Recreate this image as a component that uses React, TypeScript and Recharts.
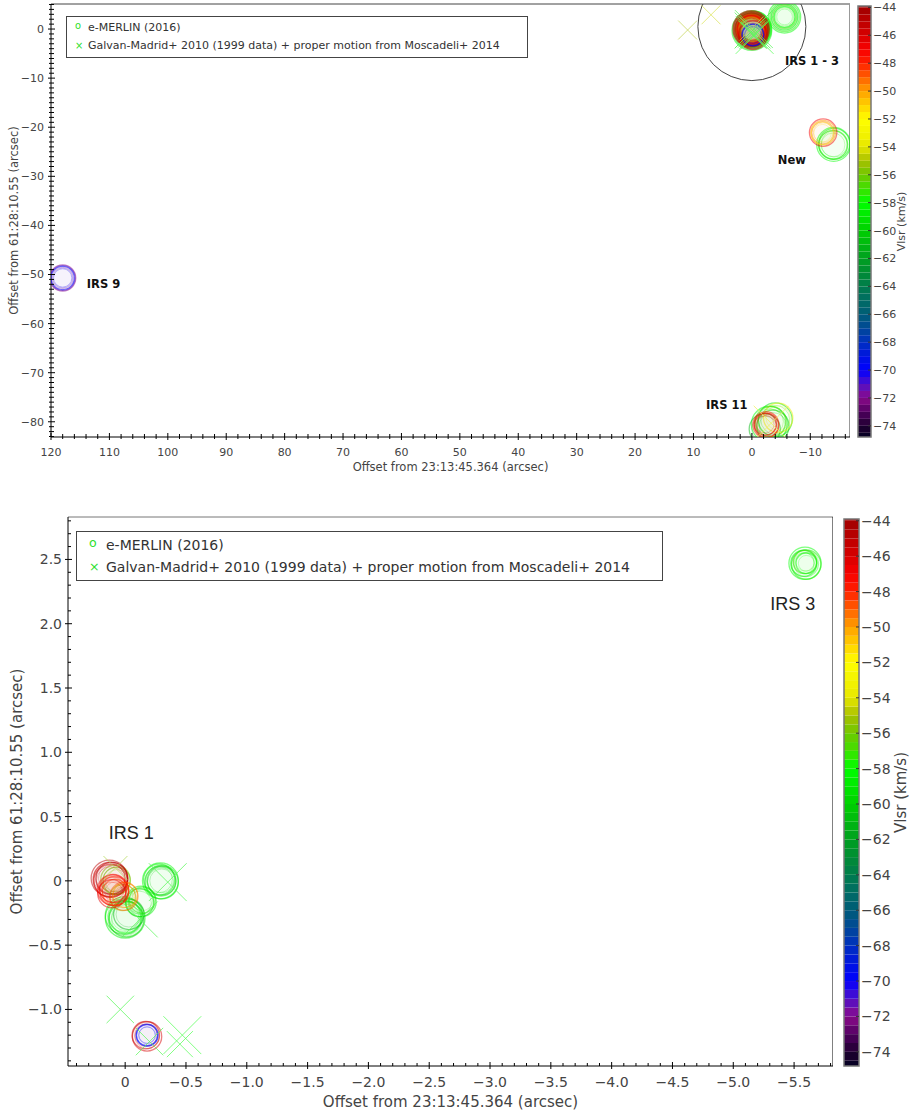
import {
  Legend,
  ReferenceArea,
  ReferenceDot,
  ReferenceLine,
  Scatter,
  ScatterChart,
  XAxis,
  YAxis,
  ZAxis,
} from "recharts";

// e-MERLIN maser spots: offsets in arcsec, Vlsr in km/s, s = peak flux (marker size)
const IRS1_SPOTS = [
  { x: 0.0, y: -0.29, v: -58.5, s: 80 },
  { x: 0.01, y: -0.27, v: -59.0, s: 70 },
  { x: -0.01, y: -0.3, v: -60.0, s: 60 },
  { x: 0.0, y: -0.28, v: -58.0, s: 50 },
  { x: -0.03, y: -0.26, v: -61.0, s: 44 },
  { x: -0.13, y: -0.16, v: -58.5, s: 44 },
  { x: -0.12, y: -0.17, v: -59.5, s: 36 },
  { x: -0.14, y: -0.15, v: -57.5, s: 30 },
  { x: -0.29, y: 0.0, v: -58.0, s: 64 },
  { x: -0.3, y: -0.01, v: -59.0, s: 54 },
  { x: -0.28, y: 0.01, v: -58.5, s: 46 },
  { x: -0.3, y: 0.0, v: -60.0, s: 38 },
  { x: 0.08, y: 0.01, v: -55.5, s: 40 },
  { x: 0.07, y: 0.0, v: -56.0, s: 34 },
  { x: 0.02, y: -0.13, v: -55.0, s: 30 },
  { x: 0.13, y: 0.02, v: -45.0, s: 66 },
  { x: 0.12, y: 0.01, v: -45.5, s: 60 },
  { x: 0.12, y: 0.0, v: -46.0, s: 54 },
  { x: 0.11, y: 0.02, v: -44.5, s: 48 },
  { x: 0.01, y: -0.12, v: -49.0, s: 36 },
  { x: 0.0, y: -0.11, v: -50.0, s: 26 },
  { x: 0.1, y: -0.07, v: -47.5, s: 46 },
  { x: 0.09, y: -0.08, v: -48.0, s: 40 },
  { x: 0.1, y: -0.06, v: -47.0, s: 34 },
  { x: 0.08, y: -0.09, v: -48.5, s: 30 },
  { x: 0.11, y: -0.1, v: -46.5, s: 36 },
  { x: -0.18, y: -1.21, v: -46.0, s: 40 },
  { x: -0.17, y: -1.2, v: -45.5, s: 34 },
  { x: -0.18, y: -1.2, v: -69.5, s: 19 },
  { x: -0.18, y: -1.2, v: -70.0, s: 17 },
];

const IRS3_SPOTS = [
  { x: -5.59, y: 2.47, v: -58.0, s: 50 },
  { x: -5.6, y: 2.46, v: -57.5, s: 40 },
  { x: -5.58, y: 2.47, v: -58.5, s: 30 },
  { x: -5.59, y: 2.48, v: -57.0, s: 22 },
  { x: -5.6, y: 2.47, v: -58.0, s: 16 },
];

const NEW_SPOTS = [
  { x: -14.0, y: -23.5, v: -58.0, s: 56 },
  { x: -14.1, y: -23.4, v: -58.5, s: 46 },
  { x: -13.9, y: -23.6, v: -57.5, s: 38 },
  { x: -12.2, y: -21.1, v: -47.0, s: 34 },
  { x: -12.2, y: -21.1, v: -50.0, s: 26 },
  { x: -12.1, y: -21.2, v: -51.0, s: 20 },
];

const IRS9_SPOTS = [
  { x: 118.0, y: -50.7, v: -72.0, s: 30 },
  { x: 118.0, y: -50.7, v: -71.0, s: 26 },
  { x: 118.0, y: -50.7, v: -70.0, s: 22 },
];

const IRS11_SPOTS = [
  { x: -3.0, y: -80.5, v: -58.0, s: 64 },
  { x: -4.0, y: -79.6, v: -59.0, s: 56 },
  { x: -3.6, y: -80.9, v: -60.0, s: 50 },
  { x: -2.2, y: -81.5, v: -61.0, s: 46 },
  { x: -4.5, y: -79.2, v: -53.5, s: 40 },
  { x: -3.2, y: -80.0, v: -57.0, s: 44 },
  { x: -2.4, y: -80.6, v: -47.5, s: 30 },
  { x: -2.5, y: -80.7, v: -48.0, s: 24 },
  { x: -2.3, y: -80.5, v: -46.5, s: 20 },
];

// Galvan-Madrid+ 2010 positions moved with Moscadeli+ 2014 proper motions
const GALVAN_SPOTS = [
  { x: 11.0, y: -0.2, v: -55.0, s: 12 },
  { x: 7.0, y: 2.9, v: -54.5, s: 12 },
  { x: 0.08, y: 0.1, v: -55.5, s: 24 },
  { x: -0.35, y: -0.01, v: -58.5, s: 72 },
  { x: -0.12, y: -0.3, v: -58.5, s: 64 },
  { x: 0.04, y: -1.0, v: -58.5, s: 34 },
  { x: -0.2, y: -1.25, v: -58.5, s: 34 },
  { x: -0.47, y: -1.2, v: -58.0, s: 72 },
  { x: -0.45, y: -1.27, v: -58.0, s: 30 },
  { x: -3.3, y: -80.3, v: -54.0, s: 60 },
];

const EMERLIN_SPOTS = [...IRS1_SPOTS, ...IRS3_SPOTS, ...NEW_SPOTS, ...IRS9_SPOTS, ...IRS11_SPOTS];

const SERIES_NAMES = [
  "e-MERLIN (2016)",
  "Galvan-Madrid+ 2010 (1999 data) + proper motion from Moscadeli+ 2014",
];

const TOP_LABELS = [
  { x: -10.3, y: -6.5, text: "IRS 1 - 3" },
  { x: -6.85, y: -26.6, text: "New" },
  { x: 111.0, y: -51.9, text: "IRS 9" },
  { x: 4.3, y: -76.5, text: "IRS 11" },
];
const BOTTOM_LABELS = [
  { x: -0.05, y: 0.37, text: "IRS 1" },
  { x: -5.49, y: 2.15, text: "IRS 3" },
];

const TOP_X_MAJOR = [120, 110, 100, 90, 80, 70, 60, 50, 40, 30, 20, 10, 0, -10];
const TOP_Y_MAJOR = [0, -10, -20, -30, -40, -50, -60, -70, -80];
const BOT_X_MAJOR = [0, -0.5, -1, -1.5, -2, -2.5, -3, -3.5, -4, -4.5, -5, -5.5];
const BOT_Y_MAJOR = [2.5, 2, 1.5, 1, 0.5, 0, -0.5, -1];
const CBAR_TICKS = [-44, -46, -48, -50, -52, -54, -56, -58, -60, -62, -64, -66, -68, -70, -72, -74];

const TOP_X_DOMAIN = [-16.8, 120];
const TOP_Y_DOMAIN = [-83.1, 5.1];
const BOT_X_DOMAIN = [-5.82, 0.47];
const BOT_Y_DOMAIN = [-1.44, 2.83];
const CBAR_DOMAIN = [-74.8, -43.9];

const VLSR_STOPS: [number, string][] = [
  [-75, "#000020"], [-74, "#200030"], [-73, "#500060"], [-72, "#8a0a8a"],
  [-71, "#5010c8"], [-70, "#0000ff"], [-69, "#0014e0"], [-68, "#0030c0"],
  [-67, "#004898"], [-66, "#005c78"], [-65, "#006c64"], [-64, "#007c4c"],
  [-63, "#008c34"], [-62, "#00a020"], [-60, "#00d000"], [-58, "#00ff00"],
  [-57, "#40e000"], [-56, "#70c800"], [-55, "#a8c000"], [-54, "#e8e800"],
  [-52, "#ffff00"], [-51, "#ffd000"], [-50, "#ffa000"], [-49, "#ff6000"],
  [-48, "#ff2000"], [-47, "#f80000"], [-46, "#d80000"], [-44, "#a00000"],
  [-43, "#a00000"],
];

const hex = (c: string) => [1, 3, 5].map((i) => parseInt(c.slice(i, i + 2), 16));
const toHex = (rgb: number[]) =>
  "#" + rgb.map((n) => Math.round(Math.max(0, Math.min(255, n))).toString(16).padStart(2, "0")).join("");

function vColor(v: number, whiten = 0) {
  let rgb = hex(VLSR_STOPS[0][1]);
  for (let i = 0; i < VLSR_STOPS.length - 1; i++) {
    const [a, ca] = VLSR_STOPS[i];
    const [b, cb] = VLSR_STOPS[i + 1];
    if (v >= a && v <= b) {
      const t = (v - a) / (b - a);
      const A = hex(ca);
      const B = hex(cb);
      rgb = A.map((n, k) => n + (B[k] - n) * t);
      break;
    }
    if (v > b) rgb = hex(cb);
  }
  return toHex(rgb.map((n) => n + (255 - n) * whiten));
}

// colour-bar steps, 0.5 km/s wide
const CBAR_BINS: number[] = [];
for (let i = 0; i < 64; i++) CBAR_BINS.push(-75 + i * 0.5);

function steps(a: number, b: number, step: number) {
  const out: number[] = [];
  const n = Math.round((b - a) / step);
  for (let i = 0; i <= n; i++) out.push(+(a + i * step).toFixed(4));
  return out;
}

const fmt = (v: number, dec: number) =>
  Math.abs(v) < 1e-9 ? "0" : (v < 0 ? "\u2212" : "") + Math.abs(v).toFixed(dec);

const isMajor = (majors: number[], v: number) => majors.some((m) => Math.abs(m - v) < 1e-6);

const FONT = "DejaVu Sans, sans-serif";

function xTick(majors: number[], dec: number, fs: number, gap: number, both: boolean) {
  return (p: any) => {
    const major = isMajor(majors, p.payload.value);
    return (
      <g>
        <line x1={p.x} x2={p.x} y1={p.y - (major ? 4 : 3)} y2={p.y + (major ? 3 : both ? 2 : 0)} stroke="#000" />
        {major && (
          <text x={p.x} y={p.y + gap} textAnchor="middle" fontSize={fs} fontFamily={FONT} fill="#444">
            {fmt(p.payload.value, dec)}
          </text>
        )}
      </g>
    );
  };
}

function yTick(majors: number[], dec: number, fs: number, gap: number, both: boolean) {
  return (p: any) => {
    const major = isMajor(majors, p.payload.value);
    return (
      <g>
        <line x1={p.x - (major ? 3 : both ? 2 : 0)} x2={p.x + (major ? 4 : 3)} y1={p.y} y2={p.y} stroke="#000" />
        {major && (
          <text x={p.x - gap} y={p.y + fs * 0.36} textAnchor="end" fontSize={fs} fontFamily={FONT} fill="#444">
            {fmt(p.payload.value, dec)}
          </text>
        )}
      </g>
    );
  };
}

function cbarTick(fs: number) {
  return (p: any) => (
    <g>
      <line x1={p.x - 3} x2={p.x} y1={p.y} y2={p.y} stroke="#333" />
      <text x={p.x + 2} y={p.y + fs * 0.36} fontSize={fs} fontFamily={FONT} fill="#444">
        {fmt(p.payload.value, 0)}
      </text>
    </g>
  );
}

const Ring = (p: any) => {
  const r = p.size ? Math.sqrt(p.size / Math.PI) : p.width / 2;
  const c = vColor(p.payload.v);
  return (
    <g>
      <circle cx={p.cx} cy={p.cy} r={r} fill={c} fillOpacity={0.015} stroke={c} strokeOpacity={0.5} strokeWidth={1.3} />
      <circle cx={p.cx} cy={p.cy} r={Math.max(r - 2.5, 1)} fill="none" stroke={c} strokeOpacity={0.3} strokeWidth={0.8} />
    </g>
  );
};

const Cross = (p: any) => {
  const h = p.size ? Math.sqrt(p.size / Math.PI) : p.width / 2;
  const c = vColor(p.payload.v, 0.35);
  return (
    <g stroke={c} strokeOpacity={0.75} strokeWidth={1}>
      <line x1={p.cx - h} y1={p.cy - h} x2={p.cx + h} y2={p.cy + h} />
      <line x1={p.cx - h} y1={p.cy + h} x2={p.cx + h} y2={p.cy - h} />
    </g>
  );
};

function LegendBox({ width, fs, rowH, padL, textL }: { width: number; fs: number; rowH: number; padL: number; textL: number }) {
  const row = (sym: string, text: string) => (
    <div style={{ position: "relative", height: rowH, lineHeight: `${rowH}px` }}>
      <span style={{ position: "absolute", left: padL, top: sym === "o" ? -2 : 0, color: "#2ee02e", fontSize: fs * 0.9 }}>{sym}</span>
      <span style={{ position: "absolute", left: textL, whiteSpace: "nowrap" }}>{text}</span>
    </div>
  );
  return (
    <div
      style={{
        width,
        border: "1px solid #444",
        background: "#fff",
        fontFamily: FONT,
        fontSize: fs,
        color: "#333",
        padding: "2px 0",
        boxSizing: "border-box",
      }}
    >
      {row("o", SERIES_NAMES[0])}
      {row("\u00d7", SERIES_NAMES[1])}
    </div>
  );
}

function ColorBar({ width, height, top, bottom, left, plotW, fs, titleFs }: any) {
  return (
    <ScatterChart width={width} height={height} margin={{ top, right: 0, bottom, left }}>
      <XAxis type="number" dataKey="x" domain={[0, 1]} allowDataOverflow hide />
      <YAxis
        type="number"
        dataKey="y"
        orientation="right"
        width={width - left - plotW}
        domain={CBAR_DOMAIN}
        allowDataOverflow
        ticks={CBAR_TICKS}
        interval={0}
        tickSize={0}
        tickMargin={0}
        axisLine={false}
        tick={cbarTick(fs)}
        label={{
          value: "Vlsr (km/s)",
          angle: -90,
          position: "insideRight",
          offset: 9,
          style: { textAnchor: "middle", fontSize: titleFs, fontFamily: FONT, fill: "#444" },
        }}
      />
      {CBAR_BINS.map((b) => (
        <ReferenceArea
          key={b}
          x1={0}
          x2={1}
          y1={b}
          y2={b + 0.5}
          fill={vColor(b + 0.25)}
          fillOpacity={1}
          stroke="none"
          ifOverflow="hidden"
        />
      ))}
      <ReferenceArea x1={0} x2={1} y1={CBAR_DOMAIN[0]} y2={CBAR_DOMAIN[1]} fill="none" stroke="#777" strokeWidth={1.5} />
      <Scatter data={CBAR_BINS.map((b) => ({ x: 0.5, y: b }))} shape={() => <g />} isAnimationActive={false} legendType="none" />
    </ScatterChart>
  );
}

export default function App() {
  return (
    <div style={{ position: "absolute", left: 0, top: 0, width: 910, height: 1115, background: "#fff", overflow: "hidden" }}>
      {/* top panel: whole field */}
      <div style={{ position: "absolute", left: 0, top: 0 }}>
        <ScatterChart width={850} height={480} margin={{ top: 4, right: 0, bottom: 0, left: 0 }}>
          <XAxis
            type="number"
            dataKey="x"
            reversed
            domain={TOP_X_DOMAIN}
            allowDataOverflow
            height={43}
            ticks={steps(-16, 120, 2)}
            interval={0}
            tickSize={0}
            tickMargin={0}
            stroke="#000"
            tick={xTick(TOP_X_MAJOR, 0, 11, 19, true)}
            label={{
              value: "Offset from 23:13:45.364 (arcsec)",
              position: "insideBottom",
              offset: 9,
              style: { fontSize: 11.5, fontFamily: FONT, fill: "#444" },
            }}
          />
          <YAxis
            type="number"
            dataKey="y"
            domain={TOP_Y_DOMAIN}
            allowDataOverflow
            width={51}
            ticks={steps(-83, 5, 1)}
            interval={0}
            tickSize={0}
            tickMargin={0}
            stroke="#000"
            tick={yTick(TOP_Y_MAJOR, 0, 11, 7, true)}
            label={{
              value: "Offset from 61:28:10.55 (arcsec)",
              angle: -90,
              position: "insideLeft",
              offset: 14,
              style: { textAnchor: "middle", fontSize: 11.5, fontFamily: FONT, fill: "#444" },
            }}
          />
          <ZAxis type="number" dataKey="s" domain={[0, 100]} range={[113, 1520]} />
          <ReferenceLine y={TOP_Y_DOMAIN[1]} stroke="#444" />
          <ReferenceLine x={TOP_X_DOMAIN[0]} stroke="#999" strokeWidth={2} />
          <ReferenceDot x={0} y={0.5} r={54} fill="none" stroke="#444" strokeWidth={1} ifOverflow="hidden" />
          <Scatter name={SERIES_NAMES[0]} data={EMERLIN_SPOTS} shape={Ring} isAnimationActive={false} />
          <Scatter name={SERIES_NAMES[1]} data={GALVAN_SPOTS} shape={Cross} isAnimationActive={false} />
          {TOP_LABELS.map((l) => (
            <ReferenceDot
              key={l.text}
              x={l.x}
              y={l.y}
              r={0}
              shape={(p: any) => (
                <text x={p.cx} y={p.cy + 4} textAnchor="middle" fontSize={11.5} fontWeight="bold" fontFamily={FONT} fill="#111">
                  {l.text}
                </text>
              )}
            />
          ))}
          <Legend
            layout="horizontal"
            verticalAlign="middle"
            align="center"
            wrapperStyle={{ left: 66, top: 16, width: 462 }}
            content={() => <LegendBox width={462} fs={11} rowH={18} padL={8} textL={21} />}
          />
        </ScatterChart>
      </div>
      <div style={{ position: "absolute", left: 850, top: 0 }}>
        <ColorBar width={60} height={480} top={6} bottom={43} left={8} plotW={13} fs={11} titleFs={11} />
      </div>

      {/* bottom panel: IRS 1 - 3 zoom */}
      <div style={{ position: "absolute", left: 0, top: 500 }}>
        <ScatterChart width={833} height={615} margin={{ top: 17, right: 0, bottom: 0, left: 0 }}>
          <XAxis
            type="number"
            dataKey="x"
            reversed
            domain={BOT_X_DOMAIN}
            allowDataOverflow
            height={49}
            ticks={steps(-5.8, 0.4, 0.1)}
            interval={0}
            tickSize={0}
            tickMargin={0}
            stroke="#000"
            tick={xTick(BOT_X_MAJOR, 1, 14, 21, false)}
            label={{
              value: "Offset from 23:13:45.364 (arcsec)",
              position: "insideBottom",
              offset: 8,
              style: { fontSize: 15, fontFamily: FONT, fill: "#444" },
            }}
          />
          <YAxis
            type="number"
            dataKey="y"
            domain={BOT_Y_DOMAIN}
            allowDataOverflow
            width={68}
            ticks={steps(-1.4, 2.8, 0.1)}
            interval={0}
            tickSize={0}
            tickMargin={0}
            stroke="#000"
            tick={yTick(BOT_Y_MAJOR, 1, 14, 6, false)}
            label={{
              value: "Offset from 61:28:10.55 (arcsec)",
              angle: -90,
              position: "insideLeft",
              offset: 17,
              style: { textAnchor: "middle", fontSize: 15, fontFamily: FONT, fill: "#444" },
            }}
          />
          <ZAxis type="number" dataKey="s" domain={[0, 100]} range={[113, 1520]} />
          <ReferenceLine y={BOT_Y_DOMAIN[1]} stroke="#777" />
          <ReferenceLine x={BOT_X_DOMAIN[0]} stroke="#000" />
          <Scatter name={SERIES_NAMES[0]} data={EMERLIN_SPOTS} shape={Ring} isAnimationActive={false} />
          <Scatter name={SERIES_NAMES[1]} data={GALVAN_SPOTS} shape={Cross} isAnimationActive={false} />
          {BOTTOM_LABELS.map((l) => (
            <ReferenceDot
              key={l.text}
              x={l.x}
              y={l.y}
              r={0}
              shape={(p: any) => (
                <text x={p.cx} y={p.cy + 6} textAnchor="middle" fontSize={18} fontFamily="Liberation Sans, sans-serif" fill="#222">
                  {l.text}
                </text>
              )}
            />
          ))}
          <Legend
            layout="horizontal"
            verticalAlign="middle"
            align="center"
            wrapperStyle={{ left: 76, top: 31, width: 587 }}
            content={() => <LegendBox width={587} fs={14} rowH={22} padL={12} textL={29} />}
          />
        </ScatterChart>
      </div>
      <div style={{ position: "absolute", left: 835, top: 500 }}>
        <ColorBar width={75} height={615} top={19} bottom={49} left={9} plotW={15} fs={14} titleFs={15} />
      </div>
    </div>
  );
}
